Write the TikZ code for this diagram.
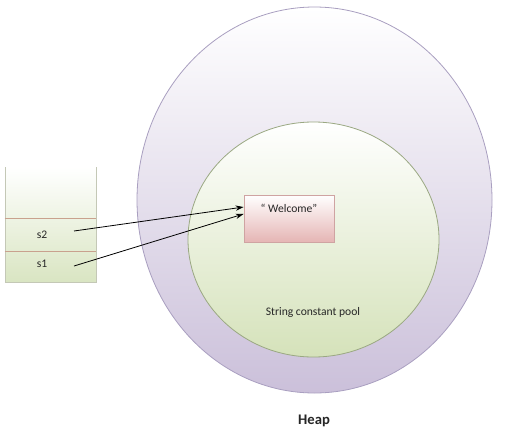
\documentclass[tikz,border=0pt]{standalone}
\usepackage{fontspec}
\setmainfont{Carlito}
\usetikzlibrary{arrows.meta,shapes.geometric}
\definecolor{heapfill}{HTML}{CBC0DA}
\definecolor{heapline}{HTML}{A99FC0}
\definecolor{poolfill}{HTML}{D5E2BA}
\definecolor{poolline}{HTML}{9AA882}
\definecolor{boxfill}{HTML}{E5B5B4}
\definecolor{boxline}{HTML}{CFA3A2}
\definecolor{stackfill}{HTML}{D9E5C2}
\definecolor{stackline}{HTML}{C4C8B6}
\definecolor{divline}{HTML}{C9A18E}
\tikzset{
  heapshape/.style={ellipse, draw=heapline, line width=0.6pt, top color=white, bottom color=heapfill, minimum width=266.25pt, minimum height=289.5pt, inner sep=0pt},
  poolshape/.style={ellipse, draw=poolline, line width=0.6pt, top color=white, bottom color=poolfill, minimum width=188.25pt, minimum height=176.25pt, inner sep=0pt},
  strbox/.style={rectangle, draw=boxline, line width=0.6pt, top color=white, bottom color=boxfill, minimum width=67.5pt, minimum height=35.25pt, inner sep=0pt},
  cell/.style={rectangle, inner sep=0pt, minimum width=68.25pt},
  lbl/.style={font=\fontsize{8.7pt}{10pt}\selectfont, inner sep=0pt, text=black!85},
  arr/.style={-{Stealth[length=6pt,width=4pt]}, line width=0.6pt, black}
}
\begin{document}
\begin{tikzpicture}[x=0.75pt,y=-0.75pt]
\useasboundingbox (0,0) rectangle (527,443);
% heap and pool
\node[heapshape] (heap) at (314.5,200) {};
\node[poolshape] (pool) at (313.5,239.5) {};
\node[lbl] (poollbl) at (313,312) {String constant pool};
\node[font=\fontsize{11pt}{13pt}\selectfont\bfseries, inner sep=0pt, text=black!85] (heaplbl) at (314,421) {Heap};
% string box
\node[strbox] (welcome) at (289,218.5) {};
\node[lbl] (wlbl) at (289,208) {\char"201C\ Welcome\char"201D};
% stack
\shade[top color=white, bottom color=stackfill] (5,167) rectangle (96,282);
\node[cell, minimum height=39pt] (top) at (50.5,193) {};
\node[cell, minimum height=24.75pt] (cs2) at (50.5,235.5) {};
\node[cell, minimum height=22.5pt] (cs1) at (50.5,267) {};
\draw[stackline, line width=0.6pt] (5,167) -- (5,282) -- (96,282) -- (96,167);
\draw[divline, line width=0.6pt] (cs2.north west) -- (cs2.north east);
\draw[divline, line width=0.6pt] (cs1.north west) -- (cs1.north east);
\node[lbl] (s2) at (42,235) {s2};
\node[lbl] (s1) at (42,264) {s1};
\coordinate (p2) at (74,231);
\coordinate (p1) at (74,266);
\coordinate (t2) at ([yshift=8.6pt]welcome.west);
\coordinate (t1) at ([yshift=3.4pt]welcome.west);
\draw[arr] (p2) -- (t2);
\draw[arr] (p1) -- (t1);
\end{tikzpicture}
\end{document}
